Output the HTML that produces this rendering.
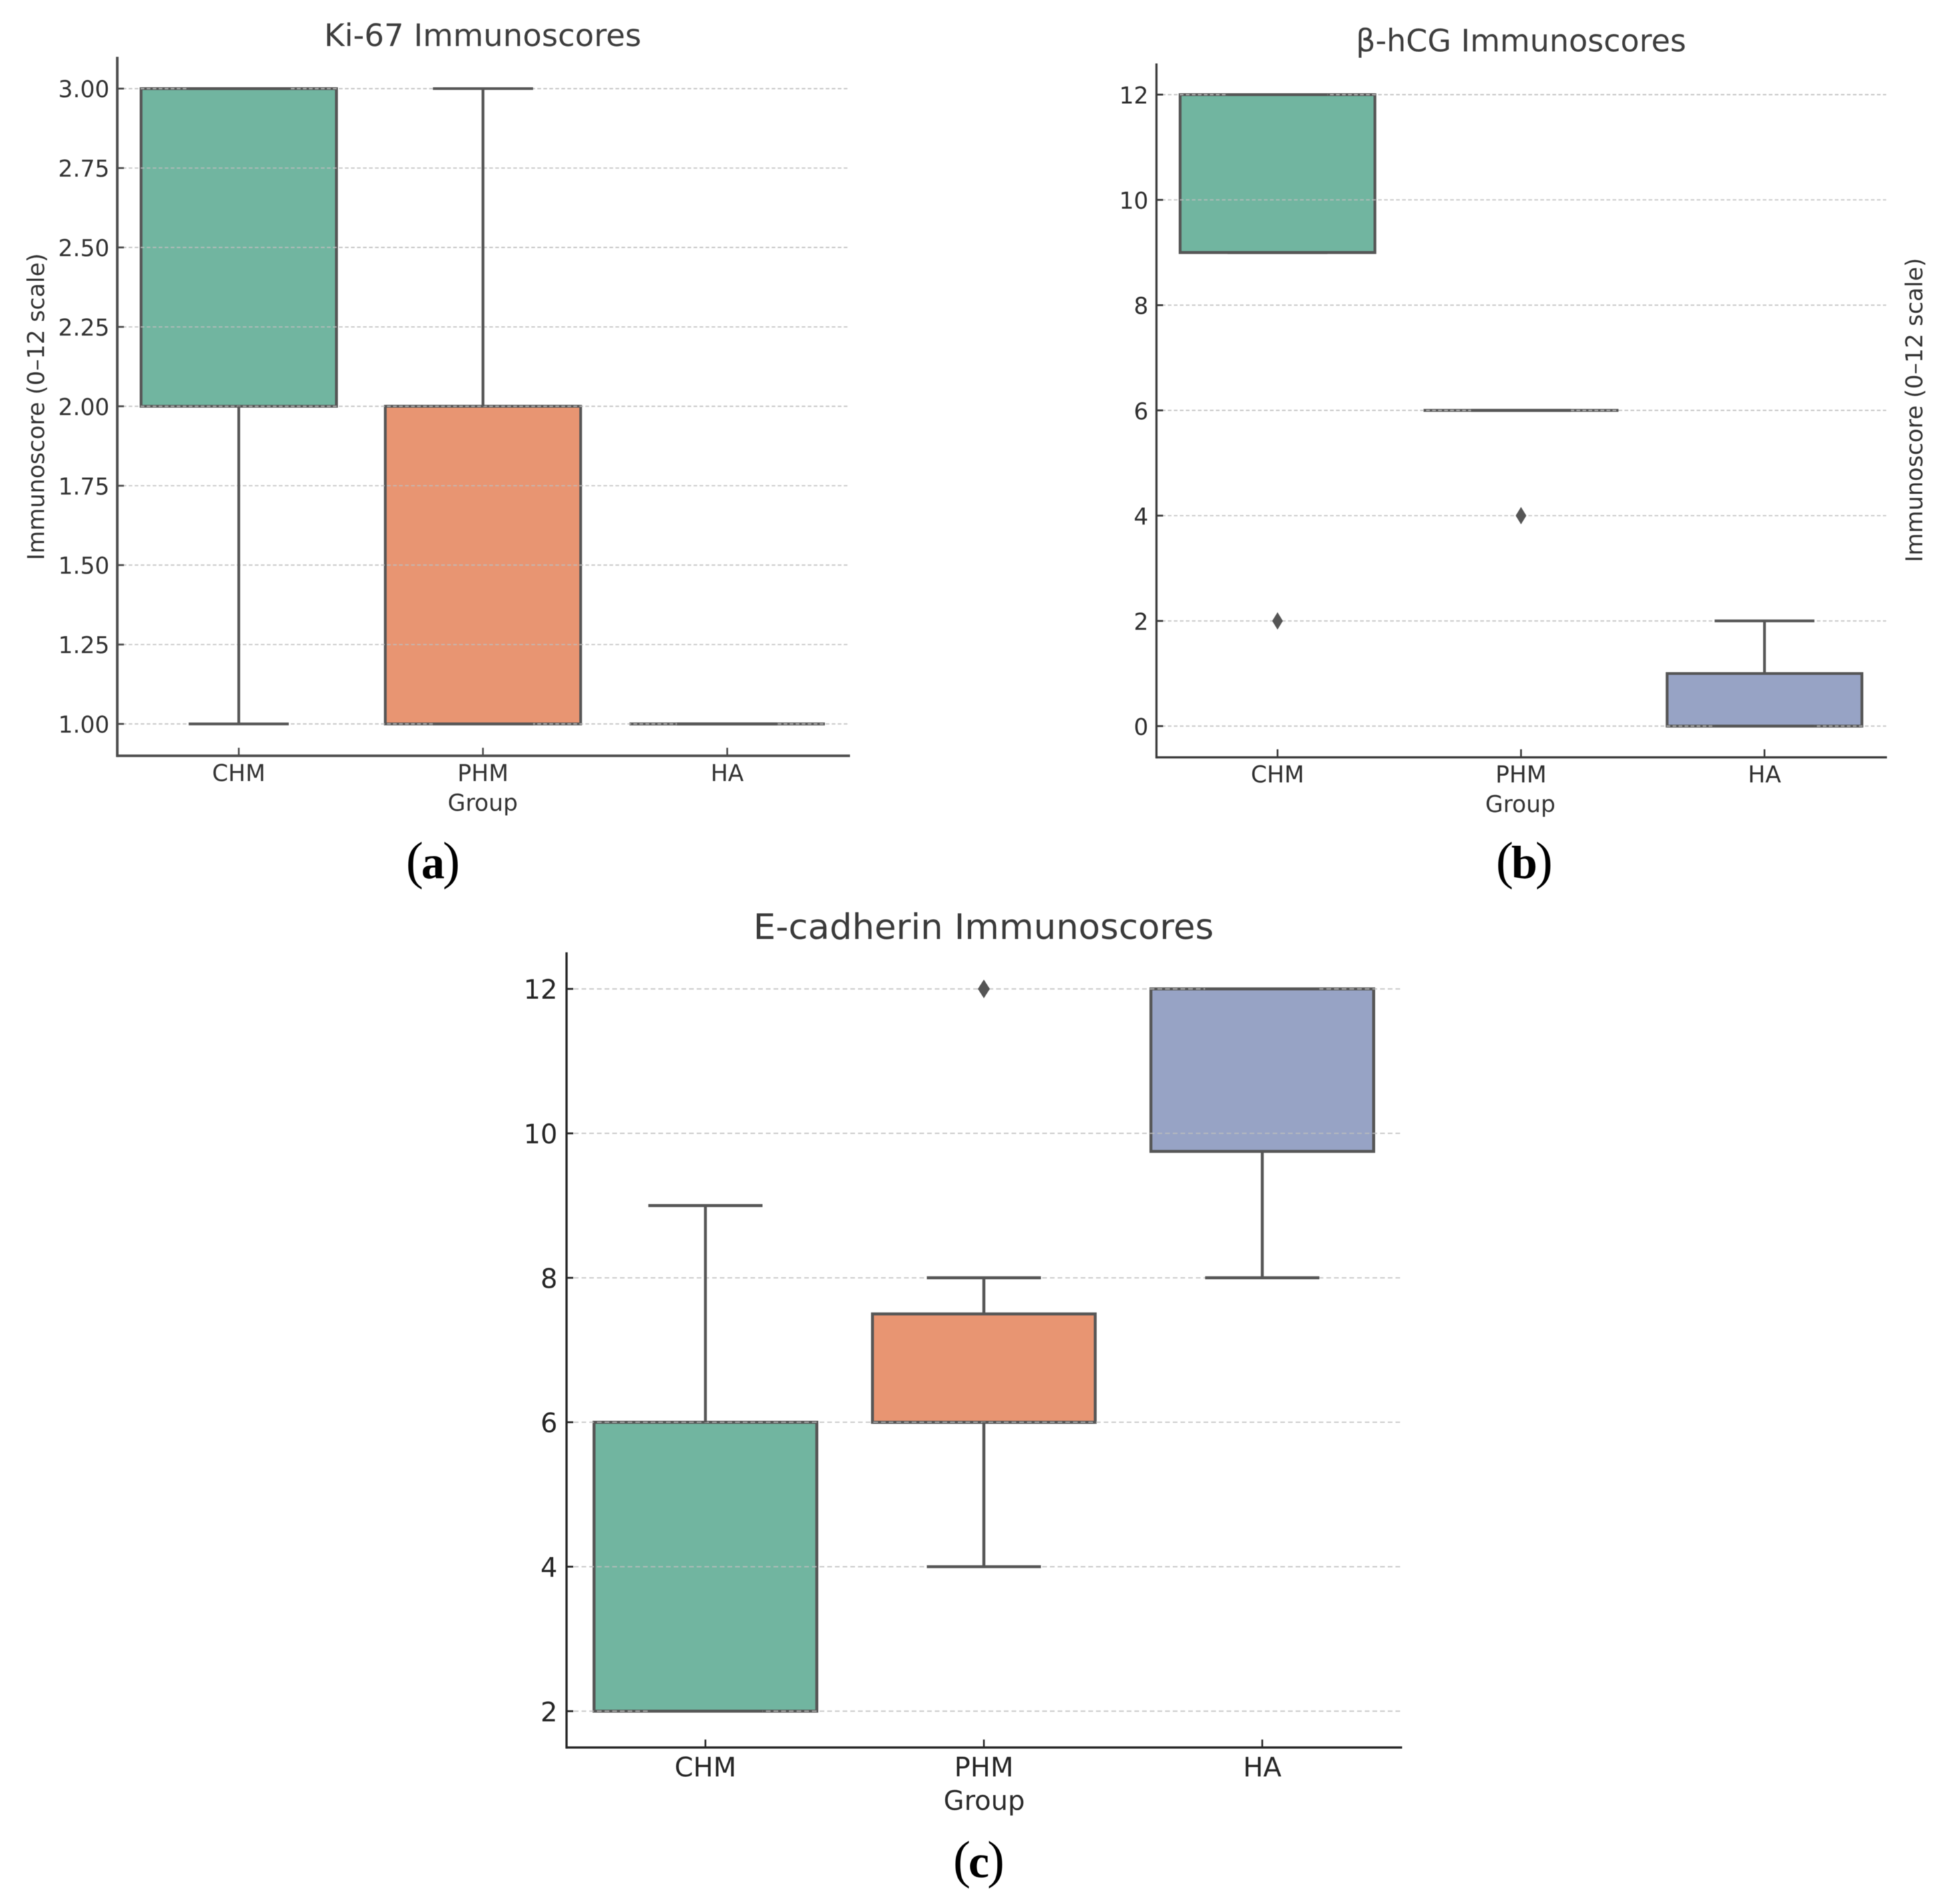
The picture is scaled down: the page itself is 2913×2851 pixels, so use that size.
<!DOCTYPE html>
<html lang="en">
<head>
<meta charset="utf-8">
<title>Immunoscore box plots</title>
<style>
html,body{margin:0;padding:0;background:#fff;}
svg{display:block;filter:blur(0.6px);}
text{font-family:"DejaVu Sans","Liberation Sans",sans-serif;}
.panel{font-family:"Liberation Serif",serif;font-weight:bold;fill:#000;text-anchor:middle;}
.paren{font-weight:normal;font-size:78px;}
</style>
</head>
<body>
<svg id="figure" xmlns="http://www.w3.org/2000/svg" width="2913" height="2851" viewBox="0 0 2913 2851">
  <rect x="0" y="0" width="2913" height="2851" fill="#ffffff"/>

  <text x="723" y="69" font-size="46.5" fill="#3d3d3d" text-anchor="middle">Ki-67 Immunoscores</text>
  <text transform="translate(66,609) rotate(-90)" font-size="34.8" fill="#333" text-anchor="middle">Immunoscore (0–12 scale)</text>
  <text x="723" y="1214" font-size="34.5" fill="#333" text-anchor="middle">Group</text>
  <text class="panel" x="648.5" y="1315" font-size="70"><tspan class="paren">(</tspan><tspan dx="-3">a</tspan><tspan class="paren" dx="-3">)</tspan></text>

  <text x="2278" y="77" font-size="46" fill="#3d3d3d" text-anchor="middle">β-hCG Immunoscores</text>
  <text transform="translate(2879,614) rotate(-90)" font-size="34.5" fill="#333" text-anchor="middle">Immunoscore (0–12 scale)</text>
  <text x="2277" y="1216" font-size="34.5" fill="#333" text-anchor="middle">Group</text>
  <text class="panel" x="2283" y="1315" font-size="70"><tspan class="paren">(</tspan><tspan dx="-3">b</tspan><tspan class="paren" dx="-3">)</tspan></text>

  <text x="1473" y="1406" font-size="53" fill="#3a3a3a" text-anchor="middle">E-cadherin Immunoscores</text>
  <text x="1474" y="2710" font-size="40" fill="#2b2b2b" text-anchor="middle">Group</text>
  <text class="panel" x="1466" y="2811" font-size="70"><tspan class="paren">(</tspan><tspan dx="-3">c</tspan><tspan class="paren" dx="-3">)</tspan></text>
</svg>

<script>
// ---------- shared data ----------
const categories = ['CHM', 'PHM', 'HA'];

// Ki-67
const kiQ1 = [2, 1, 1];
const kiQ3 = [3, 2, 1];
const kiMedian = [3, 2, 1];
const kiWhiskerLow = [1, 1, 1];
const kiWhiskerHigh = [3, 3, 1];
const kiOutliers = [[], [], []];
const kiTicks = [1, 1.25, 1.5, 1.75, 2, 2.25, 2.5, 2.75, 3];
const kiTickLabels = ['1.00', '1.25', '1.50', '1.75', '2.00', '2.25', '2.50', '2.75', '3.00'];

// beta-hCG
const hcgQ1 = [9, 6, 0];
const hcgQ3 = [12, 6, 1];
const hcgMedian = [12, 6, 0];
const hcgWhiskerLow = [9, 6, 0];
const hcgWhiskerHigh = [12, 6, 2];
const hcgOutliers = [[2], [4], []];
const hcgTicks = [0, 2, 4, 6, 8, 10, 12];
const hcgTickLabels = ['0', '2', '4', '6', '8', '10', '12'];

// E-cadherin
const ecadQ1 = [2, 6, 9.75];
const ecadQ3 = [6, 7.5, 12];
const ecadMedian = [2, 6, 12];
const ecadWhiskerLow = [2, 4, 8];
const ecadWhiskerHigh = [9, 8, 12];
const ecadOutliers = [[], [12], []];
const ecadTicks = [2, 4, 6, 8, 10, 12];
const ecadTickLabels = ['2', '4', '6', '8', '10', '12'];

// ---------- drawing ----------
const SVGNS = 'http://www.w3.org/2000/svg';
const fills = ['#71b5a0', '#e89572', '#97a3c5'];
const EDGE = '#565656';
const svgRoot = document.getElementById('figure');

function make(tag, attrs, parent) {
  const el = document.createElementNS(SVGNS, tag);
  for (const k in attrs) el.setAttribute(k, attrs[k]);
  parent.appendChild(el);
  return el;
}

function drawChart(s) {
  const xScale = i => s.left + (i + 0.5) * (s.right - s.left) / categories.length;
  const yScale = v => s.py0 + (v - s.v0) * (s.py1 - s.py0) / (s.v1 - s.v0);
  const step = (s.right - s.left) / categories.length;
  const boxW = step * 0.8;
  const capW = step * 0.41;

  const g = make('g', {}, svgRoot);
  
  

  // boxes (under the grid)
  categories.forEach((c, i) => {
    const x0 = xScale(i) - boxW / 2;
    const yA = yScale(s.q3[i]);
    const yB = yScale(s.q1[i]);
    const box = make('path', {
      d: `M${x0} ${yA}H${x0 + boxW}V${yB}H${x0}Z`,
      fill: fills[i], stroke: EDGE, 'stroke-width': s.lw, 'stroke-linejoin': 'miter'
    }, g);
    
    

    const med = make('line', {
      x1: x0, x2: x0 + boxW, y1: yScale(s.median[i]), y2: yScale(s.median[i]),
      stroke: EDGE, 'stroke-width': s.lw
    }, g);
    
    
  });

  // grid lines (drawn over the boxes)
  s.ticks.forEach((t, k) => {
    const gl = make('line', {
      x1: s.left, x2: s.right, y1: yScale(t), y2: yScale(t),
      stroke: '#bdbdbd', 'stroke-opacity': 0.8, 'stroke-width': 2, 'stroke-dasharray': s.dash
    }, g);
    
    
  });

  // whiskers, caps and outliers
  categories.forEach((c, i) => {
    const cx = xScale(i);
    const segs = [[s.whiskerLow[i], s.q1[i], 'lower'], [s.q3[i], s.whiskerHigh[i], 'upper']];
    segs.forEach(seg => {
      const whisker = make('line', {
        x1: cx, x2: cx, y1: yScale(seg[0]), y2: yScale(seg[1]),
        stroke: EDGE, 'stroke-width': s.lw
      }, g);
      
      
    });
    [[s.whiskerLow[i], 'lower'], [s.whiskerHigh[i], 'upper']].forEach(cap => {
      const capLine = make('line', {
        x1: cx - capW / 2, x2: cx + capW / 2, y1: yScale(cap[0]), y2: yScale(cap[0]),
        stroke: EDGE, 'stroke-width': s.lw
      }, g);
      
      
    });
    s.outliers[i].forEach(v => {
      const oy = yScale(v);
      const d = make('polygon', {
        points: `${cx - s.dw},${oy} ${cx},${oy - s.dh} ${cx + s.dw},${oy} ${cx},${oy + s.dh}`,
        fill: '#555555'
      }, g);
      
      
    });
  });

  // spines
  const ySpine = make('line', {
    x1: s.axisX, x2: s.axisX, y1: s.top, y2: s.bottom + s.axisW / 2,
    stroke: s.axisColor, 'stroke-width': s.axisW
  }, g);
  
  

  const xSpine = make('line', {
    x1: s.axisX, x2: s.right + 1, y1: s.bottom, y2: s.bottom,
    stroke: s.axisColor, 'stroke-width': s.axisW
  }, g);
  
  

  // y ticks and labels
  s.ticks.forEach((t, k) => {
    const tm = make('line', {
      x1: s.axisX, x2: s.axisX + 10, y1: yScale(t), y2: yScale(t),
      stroke: s.axisColor, 'stroke-width': 2.8
    }, g);
    
    

    const lb = make('text', {
      x: s.yLabelX, y: yScale(t) + s.yLabelDy, 'font-size': s.fs, fill: s.textColor, 'text-anchor': 'end'
    }, g);
    lb.textContent = s.tickLabels[k];
    
    
  });

  // x ticks and labels
  categories.forEach((c, i) => {
    const tm = make('line', {
      x1: xScale(i), x2: xScale(i), y1: s.bottom, y2: s.bottom - 12,
      stroke: s.axisColor, 'stroke-width': 2.6
    }, g);
    
    

    const lb = make('text', {
      x: xScale(i), y: s.xLabelY, 'font-size': s.fs, fill: s.textColor, 'text-anchor': 'middle'
    }, g);
    lb.textContent = c;
    
    
  });
}

drawChart({
  name: 'ki67', left: 174.7, right: 1272, top: 85, bottom: 1131.7, axisX: 175.7,
  v0: 3, py0: 132.7, v1: 1, py1: 1084,
  q1: kiQ1, q3: kiQ3, median: kiMedian, whiskerLow: kiWhiskerLow, whiskerHigh: kiWhiskerHigh,
  outliers: kiOutliers, ticks: kiTicks, tickLabels: kiTickLabels,
  lw: 4.2, axisW: 3.8, axisColor: '#4d4d4d', textColor: '#333', fs: 34.5,
  yLabelX: 164, yLabelDy: 13, xLabelY: 1169.5, dash: '5.5 3.5', dw: 8, dh: 13
});

drawChart({
  name: 'hcg', left: 1731, right: 2825, top: 95, bottom: 1134, axisX: 1732,
  v0: 12, py0: 141.7, v1: 0, py1: 1087.3,
  q1: hcgQ1, q3: hcgQ3, median: hcgMedian, whiskerLow: hcgWhiskerLow, whiskerHigh: hcgWhiskerHigh,
  outliers: hcgOutliers, ticks: hcgTicks, tickLabels: hcgTickLabels,
  lw: 4.2, axisW: 3.2, axisColor: '#3a3a3a', textColor: '#2e2e2e', fs: 34.5,
  yLabelX: 1720, yLabelDy: 13.3, xLabelY: 1171.5, dash: '5.5 3.5', dw: 8, dh: 13
});

drawChart({
  name: 'ecadherin', left: 848, right: 2099, top: 1426, bottom: 2616.7, axisX: 848.5,
  v0: 12, py0: 1480.7, v1: 2, py1: 2562.3,
  q1: ecadQ1, q3: ecadQ3, median: ecadMedian, whiskerLow: ecadWhiskerLow, whiskerHigh: ecadWhiskerHigh,
  outliers: ecadOutliers, ticks: ecadTicks, tickLabels: ecadTickLabels,
  lw: 4.4, axisW: 3.4, axisColor: '#262626', textColor: '#262626', fs: 40,
  yLabelX: 835, yLabelDy: 15, xLabelY: 2660, dash: '7 4.5', dw: 9, dh: 14
});
</script>
</body>
</html>
